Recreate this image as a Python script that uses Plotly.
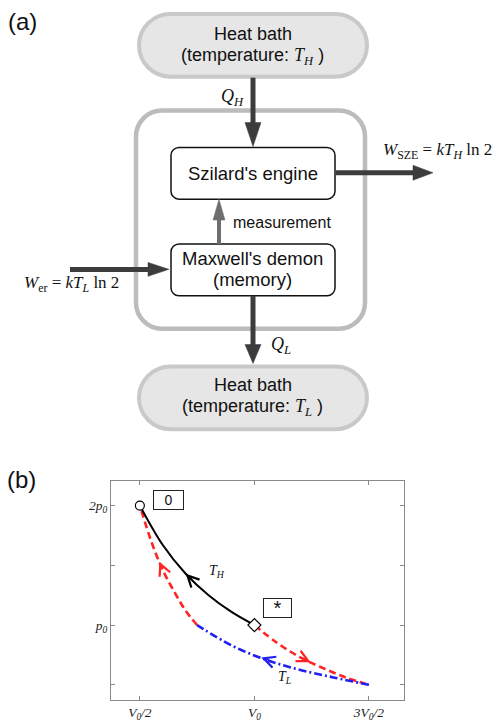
import plotly.graph_objects as go
import math

W, H = 495, 722

# ---------------- panel (b) data (units V0 and p0) -------------
th_v = [0.5, 0.6, 0.7, 0.8, 0.9, 1.0]          # T_H isotherm
th_p = [2.0, 1.67, 1.43, 1.25, 1.11, 1.0]
ad1_v = [1.0, 1.1, 1.2, 1.3, 1.4, 1.5]          # adiabat down
ad1_p = [1.0, 0.85, 0.73, 0.64, 0.56, 0.5]
tl_v = [1.5, 1.35, 1.2, 1.05, 0.9, 0.75]        # T_L isotherm
tl_p = [0.5, 0.56, 0.625, 0.71, 0.83, 1.0]
ad2_v = [0.75, 0.7, 0.65, 0.6, 0.55, 0.5]       # adiabat up
ad2_p = [1.0, 1.12, 1.28, 1.46, 1.70, 2.0]

x_tickvals = [0.5, 1.0, 1.5]
x_ticktext = ["<i>V<sub>0</sub>/2</i>", "<i>V<sub>0</sub></i>", "<i>3V<sub>0</sub>/2</i>"]
y_tickvals = [0.5, 1.0, 1.5, 2.0]
y_ticktext = ["", "<i>p<sub>0</sub></i>", "", "<i>2p<sub>0</sub></i>"]

RED = "#ff2424"
BLUE = "#2020f0"
SERIF = "Liberation Serif"
SANS = "Liberation Sans"


def px(x):
    return x / W


def py(y):
    return 1 - y / H


def rrect_path(x0, y0, x1, y1, r):
    k = 0.5523 * r
    segs = [
        ("M", [(x0 + r, y0)]),
        ("L", [(x1 - r, y0)]),
        ("C", [(x1 - r + k, y0), (x1, y0 + r - k), (x1, y0 + r)]),
        ("L", [(x1, y1 - r)]),
        ("C", [(x1, y1 - r + k), (x1 - r + k, y1), (x1 - r, y1)]),
        ("L", [(x0 + r, y1)]),
        ("C", [(x0 + r - k, y1), (x0, y1 - r + k), (x0, y1 - r)]),
        ("L", [(x0, y0 + r)]),
        ("C", [(x0, y0 + r - k), (x0 + r - k, y0), (x0 + r, y0)]),
    ]
    s = ""
    for cmd, pts in segs:
        s += cmd + " ".join(f"{px(a):.5f},{py(b):.5f}" for a, b in pts) + " "
    return s + "Z"


def poly_path(pts):
    s = "M" + " L".join(f"{px(a):.5f},{py(b):.5f}" for a, b in pts)
    return s + " Z"


shapes = []


def add_rrect(x0, y0, x1, y1, r, fill, line_color, lw):
    shapes.append(dict(type="path", xref="paper", yref="paper",
                       path=rrect_path(x0, y0, x1, y1, r),
                       fillcolor=fill, line=dict(color=line_color, width=lw)))


def add_arrow(x0, y0, x1, y1, color, lw, head_len, head_w):
    dx, dy = x1 - x0, y1 - y0
    L = math.hypot(dx, dy)
    ux, uy = dx / L, dy / L
    bx, by = x1 - ux * head_len, y1 - uy * head_len
    shapes.append(dict(type="line", xref="paper", yref="paper",
                       x0=px(x0), y0=py(y0), x1=px(bx + ux * 1), y1=py(by + uy * 1),
                       line=dict(color=color, width=lw)))
    nx, ny = -uy, ux
    pts = [(x1, y1), (bx + nx * head_w / 2, by + ny * head_w / 2),
           (bx - nx * head_w / 2, by - ny * head_w / 2)]
    shapes.append(dict(type="path", xref="paper", yref="paper", path=poly_path(pts),
                       fillcolor=color, line=dict(color=color, width=0.5)))


# outer box
add_rrect(136, 111, 365, 330, 26, "rgba(0,0,0,0)", "#bcbcbc", 4.5)
# heat bath pills
add_rrect(139, 14, 367, 77, 31.5, "#e6e6e6", "#c9c9c9", 4)
add_rrect(139, 368, 367, 431, 31.5, "#e6e6e6", "#c9c9c9", 4)
# inner boxes
add_rrect(171, 148, 335, 200, 8, "white", "#111111", 1.5)
add_rrect(171, 245, 335, 297, 8, "white", "#111111", 1.5)

DARK = "#3c3c3c"
add_arrow(253, 78, 253, 147, DARK, 5, 24, 16)      # Q_H
add_arrow(253, 297, 253, 365, DARK, 5, 19, 16)     # Q_L
add_arrow(336, 173.5, 433, 173.5, DARK, 5, 20, 15)  # W_SZE
add_arrow(70, 270.5, 169, 270.5, DARK, 5, 21, 14)   # W_er
add_arrow(219, 245, 219, 200, "#6e6e6e", 4, 21, 12)  # measurement

ann = []


def txt(x, y, s, size, family=SANS, color="#111111", xanchor="center"):
    ann.append(dict(x=px(x), y=py(y), xref="paper", yref="paper", text=s,
                    showarrow=False, xanchor=xanchor, yanchor="middle",
                    font=dict(size=size, family=family, color=color)))


span_serif = f'<span style="font-family:{SERIF}">'
txt(22, 22, "(a)", 24)
txt(21, 482, "(b)", 24)
txt(253, 34, "Heat bath", 18)
txt(253, 57, f"(temperature: {span_serif}<i>T</i><sub><i>H</i></sub></span> )", 18)
txt(253, 387, "Heat bath", 18)
txt(253, 409, f"(temperature: {span_serif}<i>T</i><sub><i>L</i></sub></span> )", 18)
txt(253, 174, "Szilard's engine", 18.5)
txt(253, 260, "Maxwell's demon", 18.5)
txt(253, 281, "(memory)", 18.5)
txt(231, 223, "measurement", 16, xanchor="left")
txt(232, 98, "<i>Q</i><sub><i>H</i></sub>", 18, family=SERIF)
txt(281, 347, "<i>Q</i><sub><i>L</i></sub>", 18, family=SERIF)
txt(494, 152, "<i>W</i><sub>SZE</sub> = <i>kT</i><sub><i>H</i></sub> ln 2", 17, family=SERIF, xanchor="right")
txt(71, 285, "<i>W</i><sub>er</sub> = <i>kT</i><sub><i>L</i></sub> ln 2", 17, family=SERIF)

# ---------------- panel (b) figure ----------------
fig = go.Figure()
fig.add_trace(go.Scatter(x=ad1_v, y=ad1_p, mode="lines", line=dict(color=RED, width=2.6, dash="7px,4px", shape="spline"), hoverinfo="skip"))
fig.add_trace(go.Scatter(x=ad2_v, y=ad2_p, mode="lines", line=dict(color=RED, width=2.6, dash="7px,4px", shape="spline"), hoverinfo="skip"))
fig.add_trace(go.Scatter(x=tl_v, y=tl_p, mode="lines", line=dict(color=BLUE, width=2.6, dash="8px,3px,2px,3px", shape="spline"), hoverinfo="skip"))
fig.add_trace(go.Scatter(x=th_v, y=th_p, mode="lines", line=dict(color="black", width=2, shape="spline"), hoverinfo="skip"))
fig.add_trace(go.Scatter(x=[th_v[0]], y=[th_p[0]], mode="markers",
                         marker=dict(symbol="circle", size=9, color="white", line=dict(color="black", width=1.2)), hoverinfo="skip"))
fig.add_trace(go.Scatter(x=[th_v[-1]], y=[th_p[-1]], mode="markers",
                         marker=dict(symbol="diamond", size=10, color="white", line=dict(color="black", width=1.2)), hoverinfo="skip"))


def chevron(tip, tail, color):
    ann.append(dict(x=tip[0], y=tip[1], ax=tail[0], ay=tail[1], xref="x", yref="y",
                    axref="x", ayref="y", showarrow=True, arrowhead=5, arrowsize=1.5,
                    arrowwidth=1.5, arrowcolor=color, text=""))


chevron((0.70, 1.43), (0.735, 1.362), "black")
chevron((0.585, 1.53), (0.602, 1.455), RED)
chevron((1.245, 0.69), (1.205, 0.728), RED)
chevron((1.03, 0.728), (1.075, 0.698), BLUE)

ann.append(dict(x=0.836, y=1.447, xref="x", yref="y", showarrow=False,
                text="<i>T<sub>H</sub></i>", font=dict(family=SERIF, size=14, color="#111")))
ann.append(dict(x=1.132, y=0.564, xref="x", yref="y", showarrow=False,
                text="<i>T<sub>L</sub></i>", font=dict(family=SERIF, size=14, color="#111")))
ann.append(dict(x=0.626, y=2.043, xref="x", yref="y", showarrow=False, text="0",
                width=27, height=16, bordercolor="#222", borderwidth=1, borderpad=1,
                bgcolor="white", font=dict(family=SANS, size=14, color="#111")))
ann.append(dict(x=1.102, y=1.143, xref="x", yref="y", showarrow=False, text="*",
                width=25, height=16, bordercolor="#222", borderwidth=1, borderpad=1,
                bgcolor="white", font=dict(family=SANS, size=20, color="#111")))

axis_common = dict(showline=True, linecolor="#8a8a8a", linewidth=1, mirror="ticks",
                   ticks="inside", ticklen=4, tickcolor="#8a8a8a", showgrid=False,
                   zeroline=False, tickfont=dict(family=SERIF, size=13.5, color="#222"))

fig.update_layout(
    width=W, height=H, margin=dict(l=0, r=0, t=0, b=0),
    paper_bgcolor="white", plot_bgcolor="white", showlegend=False,
    xaxis=dict(domain=[111 / W, 404 / W], range=[0.374, 1.653],
               tickvals=x_tickvals, ticktext=x_ticktext, **axis_common),
    yaxis=dict(domain=[1 - 703 / H, 1 - 483 / H], range=[0.3725, 2.206],
               tickvals=y_tickvals, ticktext=y_ticktext, **axis_common),
    shapes=shapes, annotations=ann,
)

fig.write_html("out.html", config={"displayModeBar": False},
               post_script="document.body.style.margin='0px';document.body.style.overflow='hidden';")
